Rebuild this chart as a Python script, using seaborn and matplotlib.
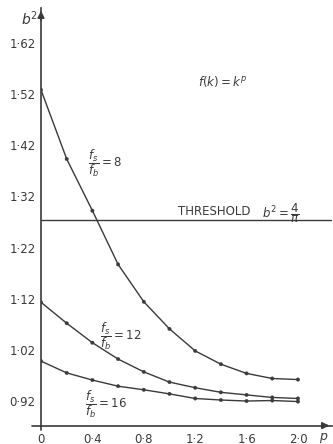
import numpy as np
import pandas as pd
import matplotlib
matplotlib.use("Agg")
import matplotlib.pyplot as plt
import seaborn as sns

# b^2 against the exponent p for three ratios f_s/f_b
p_values = [0.0, 0.2, 0.4, 0.6, 0.8, 1.0, 1.2, 1.4, 1.6, 1.8, 2.0]
b2_ratio_8 = [1.528, 1.393, 1.292, 1.187, 1.114, 1.061, 1.018, 0.992, 0.974, 0.964, 0.962]
b2_ratio_12 = [1.113, 1.072, 1.034, 1.002, 0.977, 0.957, 0.946, 0.937, 0.932, 0.927, 0.925]
b2_ratio_16 = [0.998, 0.975, 0.961, 0.949, 0.942, 0.934, 0.925, 0.922, 0.920, 0.921, 0.919]
ratio_labels = ["8", "12", "16"]
threshold = 4 / np.pi

y_ticks = [0.92, 1.02, 1.12, 1.22, 1.32, 1.42, 1.52, 1.62]
x_ticks = [0.0, 0.4, 0.8, 1.2, 1.6, 2.0]
x_minor = [0.2, 0.6, 1.0, 1.4, 1.8]

df = pd.DataFrame({
    "p": p_values * 3,
    "b2": b2_ratio_8 + b2_ratio_12 + b2_ratio_16,
    "ratio": sum([[r] * len(p_values) for r in ratio_labels], []),
})

sns.set_theme(style="white")
plt.rcParams["font.family"] = ["DejaVu Sans"]
plt.rcParams["mathtext.fontset"] = "dejavusans"

ink = "#3a3a3a"
W, H = 333, 444
fig = plt.figure(figsize=(W / 100, H / 100), dpi=100)
ax = fig.add_axes([41 / W, (H - 425.6) / H, 291 / W, (425.6 - 8) / H])

x_lo, x_hi = 0.0, 2.265
y_lo, y_hi = 0.872, 1.688
ax.set_xlim(x_lo, x_hi)
ax.set_ylim(y_lo, y_hi)

palette = {r: ink for r in ratio_labels}
sns.lineplot(data=df, x="p", y="b2", hue="ratio", palette=palette,
             linewidth=1.0, legend=False, ax=ax, sort=True)
sns.scatterplot(data=df, x="p", y="b2", hue="ratio", palette=palette,
                s=6, edgecolor=ink, linewidth=0.3, legend=False, ax=ax, zorder=4)

# threshold line
ax.axhline(threshold, color=ink, linewidth=1.0, xmin=0, xmax=1)
ax.text(1.066, threshold + 0.004, "THRESHOLD", fontsize=8.5, color=ink,
        ha="left", va="bottom")
ax.text(1.72, threshold + 0.004, r"$b^2 = \dfrac{4}{\pi}$", fontsize=8.5,
        color=ink, ha="left", va="baseline")

# axes with arrowheads
for s in ["top", "right"]:
    ax.spines[s].set_visible(False)
for s in ["left", "bottom"]:
    ax.spines[s].set_color(ink)
    ax.spines[s].set_linewidth(1.2)
ax.annotate("", xy=(0, y_hi), xytext=(0, y_hi - 0.03),
            arrowprops=dict(arrowstyle="-|>", color=ink, lw=1.2, mutation_scale=10),
            annotation_clip=False)
ax.annotate("", xy=(x_hi, y_lo), xytext=(x_hi - 0.07, y_lo),
            arrowprops=dict(arrowstyle="-|>", color=ink, lw=1.2, mutation_scale=10),
            annotation_clip=False)
ax.plot([0, 0], [y_lo - 0.009, y_lo], color=ink, lw=1.2, clip_on=False)
ax.plot([-0.07, 0], [y_lo, y_lo], color=ink, lw=1.2, clip_on=False)

# ticks and labels with middle-dot decimals
ax.set_yticks(y_ticks)
ax.set_yticklabels([f"{v:.2f}".replace(".", "·") for v in y_ticks])
ax.set_xticks(x_ticks)
ax.set_xticklabels(["0"] + [f"{v:.1f}".replace(".", "·") for v in x_ticks[1:]])
ax.set_xticks(x_minor, minor=True)
ax.tick_params(axis="both", which="both", direction="in", color=ink,
               labelcolor=ink, labelsize=8.5, width=1.0)
ax.tick_params(axis="x", which="both", length=3, pad=5)
ax.tick_params(axis="y", length=2, pad=4)
ax.set_xlabel("")
ax.set_ylabel("")

# axis names
ax.text(-0.155, 1.649, r"$b^2$", fontsize=10, color=ink, ha="left", va="bottom")
ax.text(2.165, 0.847, r"$p$", fontsize=9, color=ink, ha="left", va="center")

# annotations
ax.text(1.222, 1.544, r"$f(k) = k^p$", fontsize=8.5, color=ink, ha="left", va="center")
ax.text(0.366, 1.385, r"$\dfrac{f_s}{f_b} = 8$", fontsize=8.5, color=ink, ha="left", va="center")
ax.text(0.459, 1.047, r"$\dfrac{f_s}{f_b} = 12$", fontsize=8.5, color=ink, ha="left", va="center")
ax.text(0.342, 0.914, r"$\dfrac{f_s}{f_b} = 16$", fontsize=8.5, color=ink, ha="left", va="center")

fig.savefig("out.png", dpi=100, facecolor="white")
